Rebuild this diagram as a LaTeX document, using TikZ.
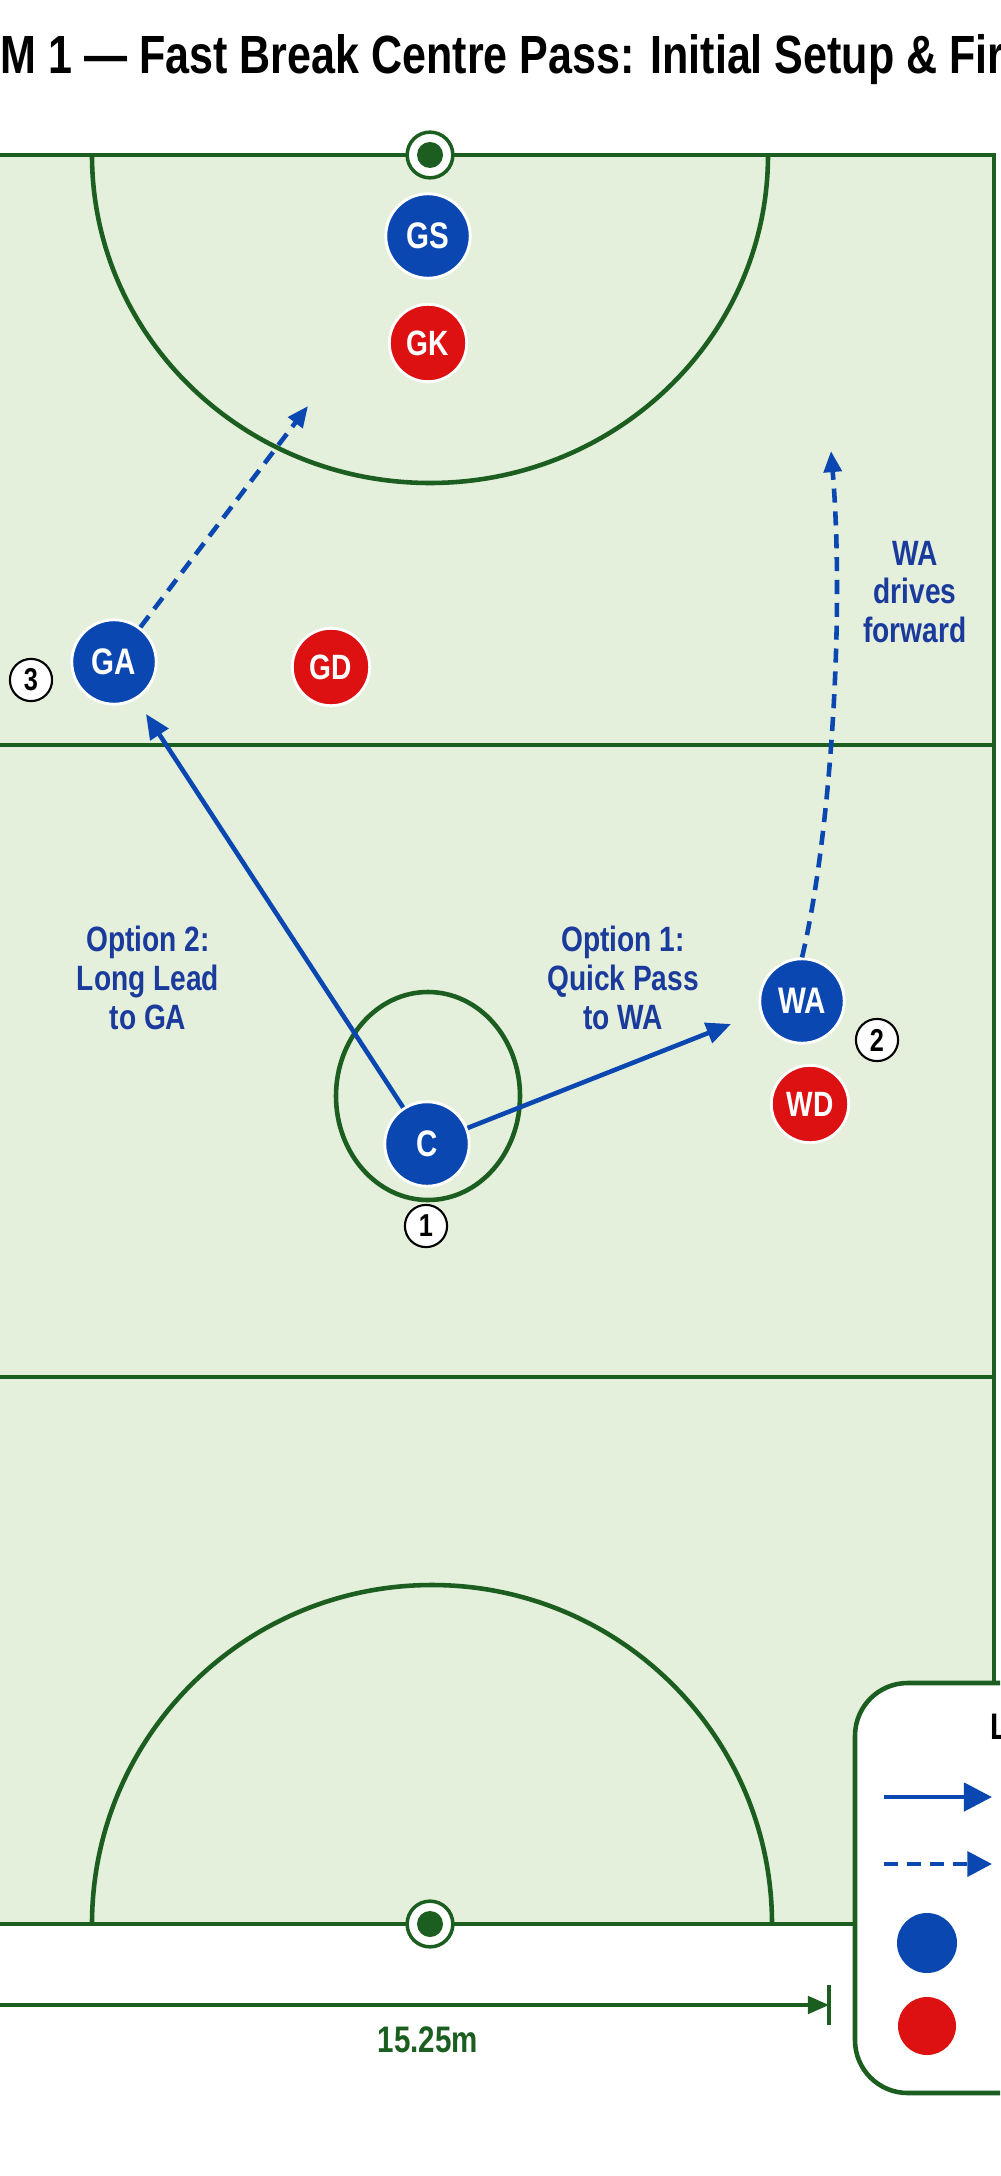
\documentclass[tikz,border=0pt]{standalone}
\usepackage{fontspec}
\setmainfont{Liberation Sans}[FakeStretch=0.8]
\usetikzlibrary{arrows.meta}
\definecolor{cg}{HTML}{1B5E20}
\definecolor{cf}{HTML}{E4F0DC}
\definecolor{cb}{HTML}{0B47B0}
\definecolor{ct}{HTML}{1A3A9C}
\definecolor{cr}{HTML}{DD1111}
\tikzset{
 court/.style={draw=cg,line width=1.3pt},
 atk/.style={circle,fill=cb,draw=white,line width=0.8pt,minimum size=24pt,inner sep=0,text=white,font=\bfseries\fontsize{10.5}{12}\selectfont},
 def/.style={circle,fill=cr,draw=white,line width=0.8pt,minimum size=22pt,inner sep=0,text=white,font=\bfseries\fontsize{10}{12}\selectfont},
 num/.style={circle,draw=black,fill=white,line width=0.6pt,minimum size=12pt,inner sep=0,font=\bfseries\fontsize{9}{10}\selectfont},
 pass/.style={draw=cb,line width=1.3pt,-{Triangle[length=7pt,width=6pt]}},
 run/.style={draw=cb,line width=1.3pt,dash pattern=on 4pt off 2.5pt,-{Triangle[length=6pt,width=5pt]}},
 lbl/.style={text=ct,align=center,font=\bfseries\fontsize{10}{11}\selectfont},
 post/.style={circle,draw=cg,fill=white,line width=1pt,minimum size=13pt,inner sep=0},
}
\begin{document}
\begin{tikzpicture}[x=0.01cm,y=-0.01cm]
\path[use as bounding box,fill=white] (0,0) rectangle (1000,2176);
\clip (0,0) rectangle (1000,2176);
% title
\node[anchor=base east,inner sep=0,font=\bfseries\fontsize{15.3}{18}\selectfont] at (0,74) {DIAGRA};
\node[anchor=base west,inner sep=0,font=\bfseries\fontsize{15.3}{18}\selectfont] at (0,74) {M 1 — Fast Break Centre Pass: Initial Setup \& First Pass Options};
% court
\fill[cf] (-200,155) rectangle (994,1924);
\draw[court] (-200,155) -- (994,155) -- (994,1924) -- (-200,1924);
\draw[court] (-200,745) -- (994,745);
\draw[court] (-200,1377) -- (994,1377);
\draw[court] (92,155) arc[start angle=180,end angle=0,x radius=338,y radius=328];
\draw[court] (92,1924) arc[start angle=180,end angle=360,x radius=340,y radius=339];
\draw[court] (428,1096) ellipse[x radius=92,y radius=104];
\node[post] (pt) at (430,155) {}; \fill[cg] (pt) circle (13);
\node[post] (pb) at (430,1924) {}; \fill[cg] (pb) circle (13);
% players
\node[atk] (GS) at (428,236) {GS};
\node[def] (GK) at (428,343) {GK};
\node[atk] (GA) at (114,662) {GA};
\node[def] (GD) at (331,667) {GD};
\node[atk] (C) at (427,1144) {C};
\node[atk] (WA) at (802,1001) {WA};
\node[def] (WD) at (810,1104) {WD};
\node[num] (n3) at (31,680) {3};
\node[num] (n2) at (877,1040) {2};
\node[num] (n1) at (426,1226) {1};
% arrows
\coordinate (gaend) at (308,406);
\coordinate (waend) at (831,451);
\draw[pass] (C) -- (146,714);
\draw[pass] (C) -- (731,1024);
\draw[run] (GA) -- (gaend);
\draw[run] (WA.north) .. controls (830,840) and (845,620) .. (waend);
\node[lbl] (l2) at (148,978) {Option 2:\\Long Lead\\to GA};
\node[lbl] (l1) at (623,978) {Option 1:\\Quick Pass\\to WA};
\node[lbl] (l3) at (915,592) {WA\\drives\\forward};
% dimension
\coordinate (dl) at (-50,2005);
\coordinate (dr) at (829,2005);
\draw[cg,line width=0.9pt,-{Triangle[length=6pt,width=5pt]}] (dl) -- (dr);
\draw[cg,line width=0.9pt] (829,1985) -- (829,2025);
\node[text=cg,font=\bfseries\fontsize{10.5}{12}\selectfont] (dim) at (428,2040) {15.25m};
% legend
\draw[draw=cg,fill=white,line width=1.3pt,rounded corners=15] (855,1683) rectangle (1100,2093);
\node[anchor=west,inner sep=0,font=\bfseries\fontsize{10.5}{12}\selectfont] (lt) at (990,1730) {Legend};
\coordinate (a1) at (884,1797); \coordinate (b1) at (992,1797);
\coordinate (a2) at (884,1864); \coordinate (b2) at (992,1864);
\draw[pass,-{Triangle[length=8pt,width=8pt]}] (a1) -- (b1);
\draw[run,-{Triangle[length=7pt,width=7pt]}] (a2) -- (b2);
\fill[cb] (927,1943) circle (30);
\fill[cr] (927,2026) circle (29);
\end{tikzpicture}
\end{document}
